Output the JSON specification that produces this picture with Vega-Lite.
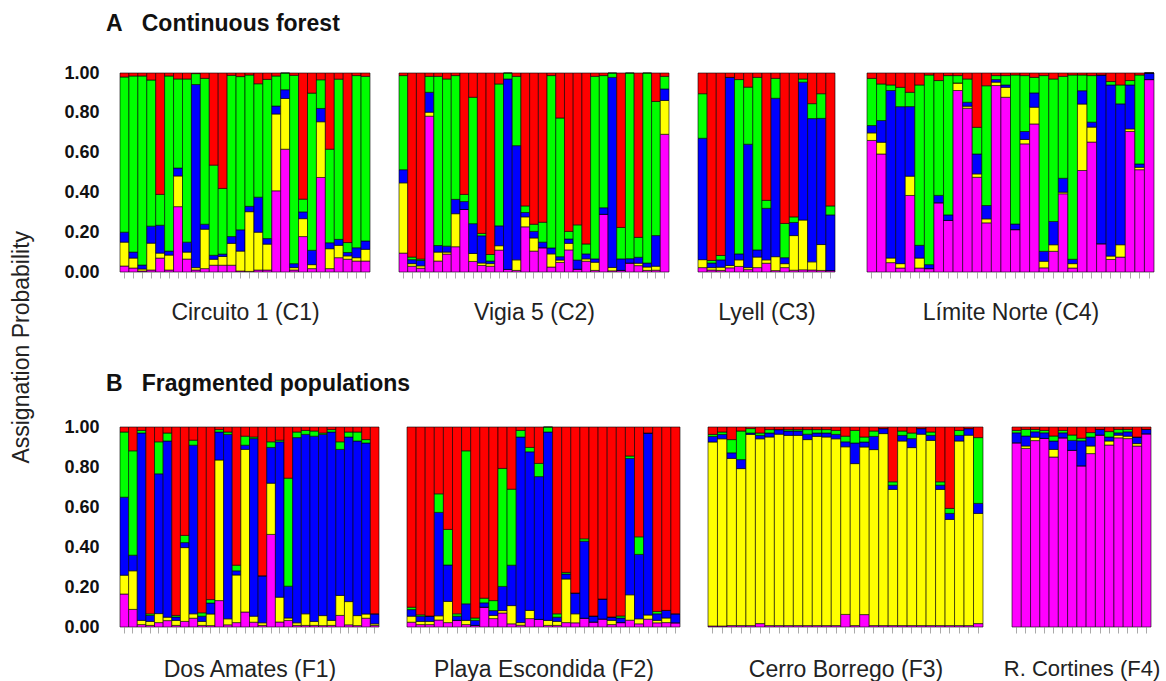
{
"$schema": "https://vega.github.io/schema/vega-lite/v6.json",
"background": "white",
"padding": {"left": 10, "top": 13, "right": 0, "bottom": 0},
"title": {"text": "Assignation Probability", "orient": "left", "anchor": "middle", "fontSize": 23, "fontWeight": "normal", "font": "Liberation Sans", "color": "#222", "offset": 30},
"config": {"view": {"stroke": null}},
"datasets": {
"rows": [
{"p":"C1","i":1,"c1":0.03,"c2":0.12,"c3":0.05,"c4":0.78,"c5":0.02},
{"p":"C1","i":2,"c1":0.02,"c2":0.05,"c3":0.03,"c4":0.885,"c5":0.015},
{"p":"C1","i":3,"c1":0.005,"c2":0.01,"c3":0.02,"c4":0.95,"c5":0.015},
{"p":"C1","i":4,"c1":0.01,"c2":0.134,"c3":0.085,"c4":0.73,"c5":0.035},
{"p":"C1","i":5,"c1":0.07,"c2":0.025,"c3":0.14,"c4":0.155,"c5":0.61},
{"p":"C1","i":6,"c1":0.01,"c2":0.075,"c3":0.02,"c4":0.88,"c5":0.015},
{"p":"C1","i":7,"c1":0.33,"c2":0.155,"c3":0.04,"c4":0.45,"c5":0.03},
{"p":"C1","i":8,"c1":0.065,"c2":0.035,"c3":0.05,"c4":0.82,"c5":0.03},
{"p":"C1","i":9,"c1":0.01,"c2":0.012,"c3":0.92,"c4":0.055,"c5":0.003},
{"p":"C1","i":10,"c1":0.017,"c2":0.198,"c3":0.025,"c4":0.733,"c5":0.027},
{"p":"C1","i":11,"c1":0.034,"c2":0.03,"c3":0.02,"c4":0.453,"c5":0.463},
{"p":"C1","i":12,"c1":0.034,"c2":0.044,"c3":0.012,"c4":0.33,"c5":0.58},
{"p":"C1","i":13,"c1":0.034,"c2":0.11,"c3":0.034,"c4":0.81,"c5":0.012},
{"p":"C1","i":14,"c1":0.005,"c2":0.1,"c3":0.107,"c4":0.77,"c5":0.018},
{"p":"C1","i":15,"c1":0.003,"c2":0.3,"c3":0.027,"c4":0.66,"c5":0.01},
{"p":"C1","i":16,"c1":0.01,"c2":0.19,"c3":0.176,"c4":0.57,"c5":0.054},
{"p":"C1","i":17,"c1":0.01,"c2":0.13,"c3":0.028,"c4":0.8,"c5":0.032},
{"p":"C1","i":18,"c1":0.408,"c2":0.386,"c3":0.04,"c4":0.151,"c5":0.015},
{"p":"C1","i":19,"c1":0.617,"c2":0.255,"c3":0.044,"c4":0.084,"c5":0},
{"p":"C1","i":20,"c1":0.01,"c2":0.012,"c3":0.02,"c4":0.946,"c5":0.012},
{"p":"C1","i":21,"c1":0.178,"c2":0.09,"c3":0.034,"c4":0.064,"c5":0.634},
{"p":"C1","i":22,"c1":0.017,"c2":0.02,"c3":0.072,"c4":0.79,"c5":0.101},
{"p":"C1","i":23,"c1":0.475,"c2":0.28,"c3":0.067,"c4":0.144,"c5":0.034},
{"p":"C1","i":24,"c1":0.017,"c2":0.1,"c3":0.03,"c4":0.47,"c5":0.383},
{"p":"C1","i":25,"c1":0.072,"c2":0.062,"c3":0.03,"c4":0.805,"c5":0.031},
{"p":"C1","i":26,"c1":0.064,"c2":0.017,"c3":0.017,"c4":0.05,"c5":0.852},
{"p":"C1","i":27,"c1":0.055,"c2":0.017,"c3":0.05,"c4":0.865,"c5":0.013},
{"p":"C1","i":28,"c1":0.055,"c2":0.059,"c3":0.042,"c4":0.827,"c5":0.017},
{"p":"C2","i":1,"c1":0.095,"c2":0.353,"c3":0.066,"c4":0.473,"c5":0.013},
{"p":"C2","i":2,"c1":0.029,"c2":0.013,"c3":0.02,"c4":0.013,"c5":0.925},
{"p":"C2","i":3,"c1":0.019,"c2":0.012,"c3":0.027,"c4":0.007,"c5":0.935},
{"p":"C2","i":4,"c1":0.783,"c2":0.02,"c3":0.1,"c4":0.08,"c5":0.017},
{"p":"C2","i":5,"c1":0.055,"c2":0.045,"c3":0.033,"c4":0.85,"c5":0.017},
{"p":"C2","i":6,"c1":0.09,"c2":0.01,"c3":0.03,"c4":0.84,"c5":0.03},
{"p":"C2","i":7,"c1":0.127,"c2":0.166,"c3":0.072,"c4":0.622,"c5":0.013},
{"p":"C2","i":8,"c1":0.314,"c2":0,"c3":0.04,"c4":0.036,"c5":0.61},
{"p":"C2","i":9,"c1":0.053,"c2":0.04,"c3":0.15,"c4":0.635,"c5":0.122},
{"p":"C2","i":10,"c1":0.033,"c2":0.012,"c3":0.137,"c4":0.012,"c5":0.806},
{"p":"C2","i":11,"c1":0.029,"c2":0.013,"c3":0.013,"c4":0.033,"c5":0.912},
{"p":"C2","i":12,"c1":0.11,"c2":0.022,"c3":0.1,"c4":0.713,"c5":0.055},
{"p":"C2","i":13,"c1":0.013,"c2":0,"c3":0.957,"c4":0.03,"c5":0},
{"p":"C2","i":14,"c1":0.008,"c2":0.053,"c3":0.574,"c4":0.348,"c5":0.017},
{"p":"C2","i":15,"c1":0.227,"c2":0.05,"c3":0.022,"c4":0.033,"c5":0.668},
{"p":"C2","i":16,"c1":0.105,"c2":0.066,"c3":0.033,"c4":0.036,"c5":0.76},
{"p":"C2","i":17,"c1":0.122,"c2":0,"c3":0.028,"c4":0.1,"c5":0.75},
{"p":"C2","i":18,"c1":0.025,"c2":0.066,"c3":0.03,"c4":0.866,"c5":0.013},
{"p":"C2","i":19,"c1":0.048,"c2":0.012,"c3":0.017,"c4":0.697,"c5":0.226},
{"p":"C2","i":20,"c1":0.111,"c2":0.033,"c3":0.022,"c4":0.038,"c5":0.796},
{"p":"C2","i":21,"c1":0.014,"c2":0,"c3":0.046,"c4":0.177,"c5":0.763},
{"p":"C2","i":22,"c1":0.054,"c2":0.012,"c3":0.025,"c4":0.05,"c5":0.859},
{"p":"C2","i":23,"c1":0.008,"c2":0.041,"c3":0.017,"c4":0.917,"c5":0.017},
{"p":"C2","i":24,"c1":0.29,"c2":0,"c3":0.033,"c4":0.664,"c5":0.013},
{"p":"C2","i":25,"c1":0.006,"c2":0.017,"c3":0.955,"c4":0.022,"c5":0},
{"p":"C2","i":26,"c1":0.008,"c2":0,"c3":0.058,"c4":0.158,"c5":0.776},
{"p":"C2","i":27,"c1":0.045,"c2":0,"c3":0.022,"c4":0.933,"c5":0},
{"p":"C2","i":28,"c1":0.032,"c2":0.012,"c3":0.03,"c4":0.1,"c5":0.826},
{"p":"C2","i":29,"c1":0.008,"c2":0.017,"c3":0.02,"c4":0.955,"c5":0},
{"p":"C2","i":30,"c1":0.009,"c2":0.02,"c3":0.154,"c4":0.674,"c5":0.143},
{"p":"C2","i":31,"c1":0.692,"c2":0.17,"c3":0.058,"c4":0.063,"c5":0.017},
{"p":"C3","i":1,"c1":0.022,"c2":0.04,"c3":0.61,"c4":0.224,"c5":0.104},
{"p":"C3","i":2,"c1":0.01,"c2":0.012,"c3":0.023,"c4":0.013,"c5":0.942},
{"p":"C3","i":3,"c1":0.008,"c2":0.016,"c3":0.037,"c4":0.022,"c5":0.917},
{"p":"C3","i":4,"c1":0.021,"c2":0.012,"c3":0.945,"c4":0,"c5":0.022},
{"p":"C3","i":5,"c1":0.028,"c2":0.033,"c3":0.03,"c4":0.876,"c5":0.033},
{"p":"C3","i":6,"c1":0.012,"c2":0.01,"c3":0.62,"c4":0.287,"c5":0.071},
{"p":"C3","i":7,"c1":0.022,"c2":0.053,"c3":0.036,"c4":0.867,"c5":0.022},
{"p":"C3","i":8,"c1":0.044,"c2":0.017,"c3":0.259,"c4":0.04,"c5":0.64},
{"p":"C3","i":9,"c1":0.007,"c2":0.07,"c3":0.796,"c4":0.1,"c5":0.027},
{"p":"C3","i":10,"c1":0.022,"c2":0.02,"c3":0.03,"c4":0.172,"c5":0.756},
{"p":"C3","i":11,"c1":0.009,"c2":0.174,"c3":0.066,"c4":0.028,"c5":0.723},
{"p":"C3","i":12,"c1":0.011,"c2":0.25,"c3":0.693,"c4":0.016,"c5":0.03},
{"p":"C3","i":13,"c1":0.01,"c2":0.041,"c3":0.72,"c4":0.075,"c5":0.154},
{"p":"C3","i":14,"c1":0.008,"c2":0.13,"c3":0.634,"c4":0.124,"c5":0.104},
{"p":"C3","i":15,"c1":0.007,"c2":0,"c3":0.28,"c4":0.045,"c5":0.668},
{"p":"C4","i":1,"c1":0.661,"c2":0.038,"c3":0.037,"c4":0.237,"c5":0.027},
{"p":"C4","i":2,"c1":0.593,"c2":0.059,"c3":0.109,"c4":0.184,"c5":0.055},
{"p":"C4","i":3,"c1":0.047,"c2":0.023,"c3":0.841,"c4":0.028,"c5":0.06},
{"p":"C4","i":4,"c1":0.02,"c2":0.022,"c3":0.789,"c4":0.097,"c5":0.072},
{"p":"C4","i":5,"c1":0.385,"c2":0.097,"c3":0.35,"c4":0.072,"c5":0.097},
{"p":"C4","i":6,"c1":0.02,"c2":0.05,"c3":0.064,"c4":0.806,"c5":0.06},
{"p":"C4","i":7,"c1":0.017,"c2":0,"c3":0.02,"c4":0.953,"c5":0.01},
{"p":"C4","i":8,"c1":0.348,"c2":0,"c3":0.037,"c4":0.577,"c5":0.038},
{"p":"C4","i":9,"c1":0.259,"c2":0,"c3":0.028,"c4":0.7,"c5":0.013},
{"p":"C4","i":10,"c1":0.912,"c2":0.038,"c3":0,"c4":0.037,"c5":0.013},
{"p":"C4","i":11,"c1":0.823,"c2":0.01,"c3":0.02,"c4":0.117,"c5":0.03},
{"p":"C4","i":12,"c1":0.476,"c2":0.017,"c3":0.1,"c4":0.134,"c5":0.273},
{"p":"C4","i":13,"c1":0.247,"c2":0.02,"c3":0.067,"c4":0.602,"c5":0.064},
{"p":"C4","i":14,"c1":0.937,"c2":0.017,"c3":0.013,"c4":0.02,"c5":0.013},
{"p":"C4","i":15,"c1":0.878,"c2":0.05,"c3":0.012,"c4":0.047,"c5":0.013},
{"p":"C4","i":16,"c1":0.213,"c2":0,"c3":0.028,"c4":0.749,"c5":0.01},
{"p":"C4","i":17,"c1":0.644,"c2":0.022,"c3":0.04,"c4":0.281,"c5":0.013},
{"p":"C4","i":18,"c1":0.744,"c2":0.084,"c3":0.072,"c4":0.078,"c5":0.022},
{"p":"C4","i":19,"c1":0.021,"c2":0.033,"c3":0.05,"c4":0.883,"c5":0.013},
{"p":"C4","i":20,"c1":0.104,"c2":0.033,"c3":0.117,"c4":0.716,"c5":0.03},
{"p":"C4","i":21,"c1":0.393,"c2":0.008,"c3":0.07,"c4":0.512,"c5":0.017},
{"p":"C4","i":22,"c1":0.02,"c2":0.022,"c3":0.022,"c4":0.926,"c5":0.01},
{"p":"C4","i":23,"c1":0.51,"c2":0.334,"c3":0.067,"c4":0.079,"c5":0.01},
{"p":"C4","i":24,"c1":0.653,"c2":0.075,"c3":0.025,"c4":0.234,"c5":0.013},
{"p":"C4","i":25,"c1":0.142,"c2":0,"c3":0.848,"c4":0,"c5":0.01},
{"p":"C4","i":26,"c1":0.063,"c2":0.017,"c3":0.86,"c4":0.017,"c5":0.043},
{"p":"C4","i":27,"c1":0.075,"c2":0.062,"c3":0.708,"c4":0.095,"c5":0.06},
{"p":"C4","i":28,"c1":0.706,"c2":0.013,"c3":0.221,"c4":0.022,"c5":0.038},
{"p":"C4","i":29,"c1":0.514,"c2":0.012,"c3":0.017,"c4":0.447,"c5":0.01},
{"p":"C4","i":30,"c1":0.967,"c2":0,"c3":0.033,"c4":0,"c5":0},
{"p":"F1","i":1,"c1":0.165,"c2":0.094,"c3":0.39,"c4":0.326,"c5":0.025},
{"p":"F1","i":2,"c1":0.088,"c2":0.193,"c3":0.078,"c4":0.522,"c5":0.119},
{"p":"F1","i":3,"c1":0.012,"c2":0.021,"c3":0.937,"c4":0.013,"c5":0.017},
{"p":"F1","i":4,"c1":0.008,"c2":0.02,"c3":0.03,"c4":0.008,"c5":0.934},
{"p":"F1","i":5,"c1":0.022,"c2":0.045,"c3":0.699,"c4":0.16,"c5":0.074},
{"p":"F1","i":6,"c1":0.032,"c2":0.017,"c3":0.881,"c4":0.04,"c5":0.03},
{"p":"F1","i":7,"c1":0.008,"c2":0.025,"c3":0.017,"c4":0.008,"c5":0.942},
{"p":"F1","i":8,"c1":0.028,"c2":0.369,"c3":0.025,"c4":0.036,"c5":0.542},
{"p":"F1","i":9,"c1":0.044,"c2":0.022,"c3":0.843,"c4":0.025,"c5":0.066},
{"p":"F1","i":10,"c1":0.008,"c2":0.02,"c3":0.026,"c4":0.017,"c5":0.929},
{"p":"F1","i":11,"c1":0.007,"c2":0.058,"c3":0.055,"c4":0.017,"c5":0.863},
{"p":"F1","i":12,"c1":0.132,"c2":0.703,"c3":0.14,"c4":0.012,"c5":0.013},
{"p":"F1","i":13,"c1":0.011,"c2":0.03,"c3":0.922,"c4":0.012,"c5":0.025},
{"p":"F1","i":14,"c1":0.022,"c2":0.238,"c3":0.021,"c4":0.028,"c5":0.691},
{"p":"F1","i":15,"c1":0.075,"c2":0.813,"c3":0.021,"c4":0.045,"c5":0.046},
{"p":"F1","i":16,"c1":0.024,"c2":0.03,"c3":0.888,"c4":0.008,"c5":0.05},
{"p":"F1","i":17,"c1":0.008,"c2":0.013,"c3":0.235,"c4":0,"c5":0.744},
{"p":"F1","i":18,"c1":0.463,"c2":0.256,"c3":0.179,"c4":0.028,"c5":0.074},
{"p":"F1","i":19,"c1":0.025,"c2":0.124,"c3":0.777,"c4":0.008,"c5":0.066},
{"p":"F1","i":20,"c1":0.033,"c2":0.012,"c3":0.159,"c4":0.54,"c5":0.256},
{"p":"F1","i":21,"c1":0.008,"c2":0.013,"c3":0.926,"c4":0.028,"c5":0.025},
{"p":"F1","i":22,"c1":0.008,"c2":0.058,"c3":0.897,"c4":0.02,"c5":0.017},
{"p":"F1","i":23,"c1":0.008,"c2":0.02,"c3":0.926,"c4":0.026,"c5":0.02},
{"p":"F1","i":24,"c1":0.007,"c2":0.05,"c3":0.906,"c4":0.007,"c5":0.03},
{"p":"F1","i":25,"c1":0.008,"c2":0.025,"c3":0.942,"c4":0.012,"c5":0.013},
{"p":"F1","i":26,"c1":0.058,"c2":0.1,"c3":0.73,"c4":0.038,"c5":0.074},
{"p":"F1","i":27,"c1":0.011,"c2":0.116,"c3":0.823,"c4":0.025,"c5":0.025},
{"p":"F1","i":28,"c1":0.007,"c2":0.05,"c3":0.873,"c4":0.045,"c5":0.025},
{"p":"F1","i":29,"c1":0.044,"c2":0.021,"c3":0.855,"c4":0.017,"c5":0.063},
{"p":"F1","i":30,"c1":0.008,"c2":0.008,"c3":0.05,"c4":0,"c5":0.934},
{"p":"F2","i":1,"c1":0.024,"c2":0.03,"c3":0.033,"c4":0.012,"c5":0.901},
{"p":"F2","i":2,"c1":0.012,"c2":0.016,"c3":0.026,"c4":0.007,"c5":0.939},
{"p":"F2","i":3,"c1":0.012,"c2":0.016,"c3":0.027,"c4":0,"c5":0.945},
{"p":"F2","i":4,"c1":0.035,"c2":0.021,"c3":0.517,"c4":0.093,"c5":0.334},
{"p":"F2","i":5,"c1":0.022,"c2":0.106,"c3":0.182,"c4":0.178,"c5":0.512},
{"p":"F2","i":6,"c1":0.033,"c2":0,"c3":0.021,"c4":0.012,"c5":0.934},
{"p":"F2","i":7,"c1":0.012,"c2":0.021,"c3":0.083,"c4":0.765,"c5":0.119},
{"p":"F2","i":8,"c1":0.008,"c2":0,"c3":0.025,"c4":0.012,"c5":0.955},
{"p":"F2","i":9,"c1":0.099,"c2":0,"c3":0.022,"c4":0.023,"c5":0.856},
{"p":"F2","i":10,"c1":0.042,"c2":0.016,"c3":0.024,"c4":0.05,"c5":0.868},
{"p":"F2","i":11,"c1":0.07,"c2":0.012,"c3":0.121,"c4":0.59,"c5":0.207},
{"p":"F2","i":12,"c1":0.016,"c2":0.091,"c3":0.202,"c4":0.38,"c5":0.311},
{"p":"F2","i":13,"c1":0.009,"c2":0.013,"c3":0.928,"c4":0.033,"c5":0.017},
{"p":"F2","i":14,"c1":0.042,"c2":0.041,"c3":0.793,"c4":0.022,"c5":0.102},
{"p":"F2","i":15,"c1":0.038,"c2":0,"c3":0.714,"c4":0.066,"c5":0.182},
{"p":"F2","i":16,"c1":0.008,"c2":0.025,"c3":0.942,"c4":0.025,"c5":0},
{"p":"F2","i":17,"c1":0.008,"c2":0.02,"c3":0.021,"c4":0.017,"c5":0.934},
{"p":"F2","i":18,"c1":0.022,"c2":0.218,"c3":0.025,"c4":0.008,"c5":0.727},
{"p":"F2","i":19,"c1":0.021,"c2":0.045,"c3":0.104,"c4":0,"c5":0.83},
{"p":"F2","i":20,"c1":0.044,"c2":0,"c3":0.385,"c4":0.012,"c5":0.559},
{"p":"F2","i":21,"c1":0.025,"c2":0,"c3":0.03,"c4":0,"c5":0.945},
{"p":"F2","i":22,"c1":0.04,"c2":0,"c3":0.1,"c4":0,"c5":0.86},
{"p":"F2","i":23,"c1":0.012,"c2":0.021,"c3":0.017,"c4":0,"c5":0.95},
{"p":"F2","i":24,"c1":0.022,"c2":0,"c3":0.023,"c4":0.01,"c5":0.945},
{"p":"F2","i":25,"c1":0.034,"c2":0.127,"c3":0.682,"c4":0.012,"c5":0.145},
{"p":"F2","i":26,"c1":0.016,"c2":0.025,"c3":0.322,"c4":0.088,"c5":0.549},
{"p":"F2","i":27,"c1":0.039,"c2":0.021,"c3":0.91,"c4":0,"c5":0.03},
{"p":"F2","i":28,"c1":0.021,"c2":0.012,"c3":0.033,"c4":0.012,"c5":0.922},
{"p":"F2","i":29,"c1":0.022,"c2":0.023,"c3":0.038,"c4":0,"c5":0.917},
{"p":"F2","i":30,"c1":0.021,"c2":0,"c3":0.045,"c4":0,"c5":0.934},
{"p":"F3","i":1,"c1":0.005,"c2":0.92,"c3":0.028,"c4":0.01,"c5":0.037},
{"p":"F3","i":2,"c1":0.005,"c2":0.936,"c3":0.022,"c4":0.012,"c5":0.025},
{"p":"F3","i":3,"c1":0.007,"c2":0.836,"c3":0.028,"c4":0.066,"c5":0.063},
{"p":"F3","i":4,"c1":0.007,"c2":0.785,"c3":0.045,"c4":0.143,"c5":0.02},
{"p":"F3","i":5,"c1":0.007,"c2":0.956,"c3":0.007,"c4":0.022,"c5":0.008},
{"p":"F3","i":6,"c1":0.017,"c2":0.924,"c3":0.017,"c4":0.012,"c5":0.03},
{"p":"F3","i":7,"c1":0.007,"c2":0.943,"c3":0.02,"c4":0.017,"c5":0.013},
{"p":"F3","i":8,"c1":0.007,"c2":0.957,"c3":0.023,"c4":0,"c5":0.013},
{"p":"F3","i":9,"c1":0.007,"c2":0.951,"c3":0.022,"c4":0.007,"c5":0.013},
{"p":"F3","i":10,"c1":0.007,"c2":0.951,"c3":0.022,"c4":0.007,"c5":0.013},
{"p":"F3","i":11,"c1":0.007,"c2":0.93,"c3":0.027,"c4":0.023,"c5":0.013},
{"p":"F3","i":12,"c1":0.007,"c2":0.946,"c3":0.017,"c4":0.017,"c5":0.013},
{"p":"F3","i":13,"c1":0.007,"c2":0.943,"c3":0.02,"c4":0.017,"c5":0.013},
{"p":"F3","i":14,"c1":0.007,"c2":0.934,"c3":0.022,"c4":0.02,"c5":0.017},
{"p":"F3","i":15,"c1":0.063,"c2":0.838,"c3":0.025,"c4":0.028,"c5":0.046},
{"p":"F3","i":16,"c1":0.007,"c2":0.81,"c3":0.103,"c4":0.063,"c5":0.017},
{"p":"F3","i":17,"c1":0.062,"c2":0.838,"c3":0.025,"c4":0.025,"c5":0.05},
{"p":"F3","i":18,"c1":0.007,"c2":0.88,"c3":0.066,"c4":0.027,"c5":0.02},
{"p":"F3","i":19,"c1":0.007,"c2":0.96,"c3":0.025,"c4":0,"c5":0.008},
{"p":"F3","i":20,"c1":0.007,"c2":0.681,"c3":0.021,"c4":0.017,"c5":0.274},
{"p":"F3","i":21,"c1":0.007,"c2":0.923,"c3":0.028,"c4":0.022,"c5":0.02},
{"p":"F3","i":22,"c1":0.007,"c2":0.89,"c3":0.045,"c4":0.028,"c5":0.03},
{"p":"F3","i":23,"c1":0.007,"c2":0.957,"c3":0.028,"c4":0,"c5":0.008},
{"p":"F3","i":24,"c1":0.007,"c2":0.926,"c3":0.025,"c4":0.017,"c5":0.025},
{"p":"F3","i":25,"c1":0.007,"c2":0.681,"c3":0.021,"c4":0.017,"c5":0.274},
{"p":"F3","i":26,"c1":0.007,"c2":0.531,"c3":0.03,"c4":0.025,"c5":0.407},
{"p":"F3","i":27,"c1":0.007,"c2":0.923,"c3":0.028,"c4":0.025,"c5":0.017},
{"p":"F3","i":28,"c1":0.007,"c2":0.952,"c3":0.033,"c4":0,"c5":0.008},
{"p":"F3","i":29,"c1":0.017,"c2":0.551,"c3":0.05,"c4":0.329,"c5":0.053},
{"p":"F4","i":1,"c1":0.921,"c2":0,"c3":0.05,"c4":0.012,"c5":0.017},
{"p":"F4","i":2,"c1":0.893,"c2":0.012,"c3":0.05,"c4":0.033,"c5":0.012},
{"p":"F4","i":3,"c1":0.932,"c2":0.017,"c3":0.027,"c4":0.012,"c5":0.012},
{"p":"F4","i":4,"c1":0.943,"c2":0,"c3":0.028,"c4":0.012,"c5":0.017},
{"p":"F4","i":5,"c1":0.85,"c2":0.038,"c3":0.042,"c4":0.025,"c5":0.045},
{"p":"F4","i":6,"c1":0.946,"c2":0,"c3":0.025,"c4":0.012,"c5":0.017},
{"p":"F4","i":7,"c1":0.883,"c2":0,"c3":0.05,"c4":0.027,"c5":0.04},
{"p":"F4","i":8,"c1":0.806,"c2":0,"c3":0.125,"c4":0.013,"c5":0.056},
{"p":"F4","i":9,"c1":0.867,"c2":0.038,"c3":0.045,"c4":0.022,"c5":0.028},
{"p":"F4","i":10,"c1":0.96,"c2":0,"c3":0.028,"c4":0,"c5":0.012},
{"p":"F4","i":11,"c1":0.91,"c2":0.02,"c3":0.02,"c4":0.027,"c5":0.023},
{"p":"F4","i":12,"c1":0.946,"c2":0.013,"c3":0.012,"c4":0.017,"c5":0.012},
{"p":"F4","i":13,"c1":0.942,"c2":0.012,"c3":0.022,"c4":0.012,"c5":0.012},
{"p":"F4","i":14,"c1":0.905,"c2":0.012,"c3":0.033,"c4":0,"c5":0.05},
{"p":"F4","i":15,"c1":0.966,"c2":0,"c3":0.022,"c4":0,"c5":0.012}
]},
"data": {"name": "rows"},
"spacing": 48,
"vconcat": [
{"title": {"text": "A\u00a0\u00a0\u00a0Continuous forest", "anchor": "start", "fontSize": 23, "fontWeight": "bold", "font": "Liberation Sans", "color": "#111", "offset": 28, "dx": 42},
 "spacing": 30,
 "hconcat": [
 {"spacing": 27,
  "hconcat": [
  {"width": 250, "height": 199, "transform": [{"filter": {"field": "p", "equal": "C1"}}, {"fold": ["c1","c2","c3","c4","c5"], "as": ["cluster","prob"]}],
   "mark": {"type": "bar", "stroke": "#000", "strokeWidth": 0.6},
   "encoding": {
    "x": {"field": "i", "type": "ordinal", "scale": {"paddingInner": 0, "paddingOuter": 0}, "axis": {"labels": false, "ticks": true, "tickSize": 6, "tickColor": "#aaa", "domain": false, "title": "Circuito 1 (C1)", "titleFont": "Liberation Sans", "titleFontSize": 23, "titleFontWeight": "normal", "titleColor": "#222", "titlePadding": 23}},
    "y": {"field": "prob", "type": "quantitative", "stack": "normalize", "scale": {"domain": [0, 1]}, "axis": {"values": [0, 0.2, 0.4, 0.6, 0.8, 1], "labelExpr": "format(datum.value, '.2f')", "labelFont": "Liberation Sans", "labelFontWeight": "bold", "labelFontSize": 18, "labelColor": "#111", "ticks": false, "domain": false, "grid": false, "title": null, "labelPadding": 21}},
    "color": {"field": "cluster", "type": "nominal", "scale": {"domain": ["c1","c2","c3","c4","c5"], "range": ["#ff00ff","#ffff00","#0000ff","#00ff00","#ff0000"]}, "legend": null},
    "order": {"field": "cluster", "sort": "ascending"}}},
  {"width": 270, "height": 199, "transform": [{"filter": {"field": "p", "equal": "C2"}}, {"fold": ["c1","c2","c3","c4","c5"], "as": ["cluster","prob"]}],
   "mark": {"type": "bar", "stroke": "#000", "strokeWidth": 0.6},
   "encoding": {
    "x": {"field": "i", "type": "ordinal", "scale": {"paddingInner": 0, "paddingOuter": 0}, "axis": {"labels": false, "ticks": true, "tickSize": 6, "tickColor": "#aaa", "domain": false, "title": "Vigia 5 (C2)", "titleFont": "Liberation Sans", "titleFontSize": 23, "titleFontWeight": "normal", "titleColor": "#222", "titlePadding": 23}},
    "y": {"field": "prob", "type": "quantitative", "stack": "normalize", "scale": {"domain": [0, 1]}, "axis": null},
    "color": {"field": "cluster", "type": "nominal", "scale": {"domain": ["c1","c2","c3","c4","c5"], "range": ["#ff00ff","#ffff00","#0000ff","#00ff00","#ff0000"]}, "legend": null},
    "order": {"field": "cluster", "sort": "ascending"}}},
  {"width": 137, "height": 199, "transform": [{"filter": {"field": "p", "equal": "C3"}}, {"fold": ["c1","c2","c3","c4","c5"], "as": ["cluster","prob"]}],
   "mark": {"type": "bar", "stroke": "#000", "strokeWidth": 0.6},
   "encoding": {
    "x": {"field": "i", "type": "ordinal", "scale": {"paddingInner": 0, "paddingOuter": 0}, "axis": {"labels": false, "ticks": true, "tickSize": 6, "tickColor": "#aaa", "domain": false, "title": "Lyell (C3)", "titleFont": "Liberation Sans", "titleFontSize": 23, "titleFontWeight": "normal", "titleColor": "#222", "titlePadding": 23}},
    "y": {"field": "prob", "type": "quantitative", "stack": "normalize", "scale": {"domain": [0, 1]}, "axis": null},
    "color": {"field": "cluster", "type": "nominal", "scale": {"domain": ["c1","c2","c3","c4","c5"], "range": ["#ff00ff","#ffff00","#0000ff","#00ff00","#ff0000"]}, "legend": null},
    "order": {"field": "cluster", "sort": "ascending"}}}
  ]},
  {"width": 287, "height": 199, "transform": [{"filter": {"field": "p", "equal": "C4"}}, {"fold": ["c1","c2","c3","c4","c5"], "as": ["cluster","prob"]}],
   "mark": {"type": "bar", "stroke": "#000", "strokeWidth": 0.6},
   "encoding": {
    "x": {"field": "i", "type": "ordinal", "scale": {"paddingInner": 0, "paddingOuter": 0}, "axis": {"labels": false, "ticks": true, "tickSize": 6, "tickColor": "#aaa", "domain": false, "title": "Límite Norte (C4)", "titleFont": "Liberation Sans", "titleFontSize": 23, "titleFontWeight": "normal", "titleColor": "#222", "titlePadding": 23}},
    "y": {"field": "prob", "type": "quantitative", "stack": "normalize", "scale": {"domain": [0, 1]}, "axis": null},
    "color": {"field": "cluster", "type": "nominal", "scale": {"domain": ["c1","c2","c3","c4","c5"], "range": ["#ff00ff","#ffff00","#0000ff","#00ff00","#ff0000"]}, "legend": null},
    "order": {"field": "cluster", "sort": "ascending"}}}
 ]},
{"title": {"text": "B\u00a0\u00a0\u00a0Fragmented populations", "anchor": "start", "fontSize": 23, "fontWeight": "bold", "font": "Liberation Sans", "color": "#111", "offset": 22, "dx": 42},
 "spacing": 19,
 "hconcat": [
 {"spacing": 26,
  "hconcat": [
  {"width": 259, "height": 200, "transform": [{"filter": {"field": "p", "equal": "F1"}}, {"fold": ["c1","c2","c3","c4","c5"], "as": ["cluster","prob"]}],
   "mark": {"type": "bar", "stroke": "#000", "strokeWidth": 0.6},
   "encoding": {
    "x": {"field": "i", "type": "ordinal", "scale": {"paddingInner": 0, "paddingOuter": 0}, "axis": {"labels": false, "ticks": true, "tickSize": 6, "tickColor": "#aaa", "domain": false, "title": "Dos Amates (F1)", "titleFont": "Liberation Sans", "titleFontSize": 23, "titleFontWeight": "normal", "titleColor": "#222", "titlePadding": 25}},
    "y": {"field": "prob", "type": "quantitative", "stack": "normalize", "scale": {"domain": [0, 1]}, "axis": {"values": [0, 0.2, 0.4, 0.6, 0.8, 1], "labelExpr": "format(datum.value, '.2f')", "labelFont": "Liberation Sans", "labelFontWeight": "bold", "labelFontSize": 18, "labelColor": "#111", "ticks": false, "domain": false, "grid": false, "title": null, "labelPadding": 21}},
    "color": {"field": "cluster", "type": "nominal", "scale": {"domain": ["c1","c2","c3","c4","c5"], "range": ["#ff00ff","#ffff00","#0000ff","#00ff00","#ff0000"]}, "legend": null},
    "order": {"field": "cluster", "sort": "ascending"}}},
  {"width": 273, "height": 200, "transform": [{"filter": {"field": "p", "equal": "F2"}}, {"fold": ["c1","c2","c3","c4","c5"], "as": ["cluster","prob"]}],
   "mark": {"type": "bar", "stroke": "#000", "strokeWidth": 0.6},
   "encoding": {
    "x": {"field": "i", "type": "ordinal", "scale": {"paddingInner": 0, "paddingOuter": 0}, "axis": {"labels": false, "ticks": true, "tickSize": 6, "tickColor": "#aaa", "domain": false, "title": "Playa Escondida (F2)", "titleFont": "Liberation Sans", "titleFontSize": 23, "titleFontWeight": "normal", "titleColor": "#222", "titlePadding": 25}},
    "y": {"field": "prob", "type": "quantitative", "stack": "normalize", "scale": {"domain": [0, 1]}, "axis": null},
    "color": {"field": "cluster", "type": "nominal", "scale": {"domain": ["c1","c2","c3","c4","c5"], "range": ["#ff00ff","#ffff00","#0000ff","#00ff00","#ff0000"]}, "legend": null},
    "order": {"field": "cluster", "sort": "ascending"}}},
  {"width": 275, "height": 200, "transform": [{"filter": {"field": "p", "equal": "F3"}}, {"fold": ["c1","c2","c3","c4","c5"], "as": ["cluster","prob"]}],
   "mark": {"type": "bar", "stroke": "#000", "strokeWidth": 0.6},
   "encoding": {
    "x": {"field": "i", "type": "ordinal", "scale": {"paddingInner": 0, "paddingOuter": 0}, "axis": {"labels": false, "ticks": true, "tickSize": 6, "tickColor": "#aaa", "domain": false, "title": "Cerro Borrego (F3)", "titleFont": "Liberation Sans", "titleFontSize": 23, "titleFontWeight": "normal", "titleColor": "#222", "titlePadding": 25}},
    "y": {"field": "prob", "type": "quantitative", "stack": "normalize", "scale": {"domain": [0, 1]}, "axis": null},
    "color": {"field": "cluster", "type": "nominal", "scale": {"domain": ["c1","c2","c3","c4","c5"], "range": ["#ff00ff","#ffff00","#0000ff","#00ff00","#ff0000"]}, "legend": null},
    "order": {"field": "cluster", "sort": "ascending"}}}
  ]},
  {"width": 139, "height": 200, "transform": [{"filter": {"field": "p", "equal": "F4"}}, {"fold": ["c1","c2","c3","c4","c5"], "as": ["cluster","prob"]}],
   "mark": {"type": "bar", "stroke": "#000", "strokeWidth": 0.6},
   "encoding": {
    "x": {"field": "i", "type": "ordinal", "scale": {"paddingInner": 0, "paddingOuter": 0}, "axis": {"labels": false, "ticks": true, "tickSize": 6, "tickColor": "#aaa", "domain": false, "title": "R. Cortines (F4)", "titleFont": "Liberation Sans", "titleFontSize": 22, "titleFontWeight": "normal", "titleColor": "#222", "titlePadding": 25}},
    "y": {"field": "prob", "type": "quantitative", "stack": "normalize", "scale": {"domain": [0, 1]}, "axis": null},
    "color": {"field": "cluster", "type": "nominal", "scale": {"domain": ["c1","c2","c3","c4","c5"], "range": ["#ff00ff","#ffff00","#0000ff","#00ff00","#ff0000"]}, "legend": null},
    "order": {"field": "cluster", "sort": "ascending"}}}
 ]}
]
}
